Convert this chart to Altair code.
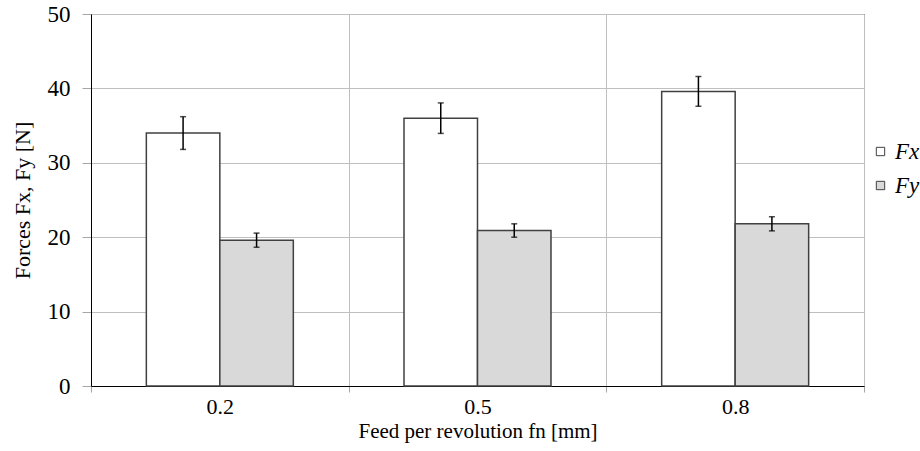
import altair as alt
import pandas as pd

feeds = ["0.2", "0.5", "0.8"]
series = ["Fx", "Fy"]
fx_mean = [34.0, 36.0, 39.6]
fx_err = [2.2, 2.05, 2.0]
fy_mean = [19.6, 20.9, 21.8]
fy_err = [0.95, 0.9, 0.95]
fills = ["#ffffff", "#d9d9d9"]

rows = []
for i, f in enumerate(feeds):
    rows.append(dict(feed=f, s="Fx", v=fx_mean[i], e=fx_err[i]))
    rows.append(dict(feed=f, s="Fy", v=fy_mean[i], e=fy_err[i]))
df = pd.DataFrame(rows)
df["lo"] = df["v"] - df["e"]
df["hi"] = df["v"] + df["e"]

FONT = "Liberation Serif"

x = alt.X(
    "feed:N", sort=feeds,
    scale=alt.Scale(paddingInner=0, paddingOuter=0),
    axis=alt.Axis(
        title="Feed per revolution fn [mm]", tickBand="extent", grid=True,
        labelAngle=0, labelFont=FONT, labelFontSize=22, labelColor="#000000",
        labelPadding=4, tickSize=6, tickColor="#a6a6a6", domainColor="#000000",
        titleFont=FONT, titleFontSize=21, titleFontWeight="normal", titleColor="#000000",
        titlePadding=3, gridColor="#bfbfbf",
    ),
)
xo = alt.XOffset(
    "s:N", sort=series,
    scale=alt.Scale(paddingOuter=0.753, paddingInner=0),
)
y_scale = alt.Scale(domain=[0, 50], nice=False)
y_axis = alt.Axis(
    title="Forces Fx, Fy [N]", values=[0, 10, 20, 30, 40, 50], grid=True,
    labelFont=FONT, labelFontSize=23, labelColor="#000000", labelPadding=12,
    tickSize=9, tickColor="#a6a6a6", domainColor="#000000",
    titleFont=FONT, titleFontSize=22, titleFontWeight="normal", titleColor="#000000",
    titlePadding=13, gridColor="#bfbfbf",
)

bars = alt.Chart(df).mark_bar(stroke="#404040", strokeWidth=1.5).encode(
    x=x, xOffset=xo,
    y=alt.Y("v:Q", scale=y_scale, axis=y_axis),
    fill=alt.Fill(
        "s:N", sort=series,
        scale=alt.Scale(domain=series, range=fills),
        legend=alt.Legend(
            title=None, orient="none", legendX=778, legendY=126,
            symbolType="square", symbolSize=70, symbolStrokeColor="#404040",
            symbolStrokeWidth=1, labelFont=FONT, labelFontSize=23,
            labelFontStyle="italic", labelColor="#000000", rowPadding=10,
            symbolOffset=0, labelOffset=3,
        ),
    ),
)

rules = alt.Chart(df).mark_rule(color="#000000", strokeWidth=1.5).encode(
    x=x, xOffset=xo,
    y=alt.Y("lo:Q", scale=y_scale),
    y2="hi:Q",
)
cap_lo = alt.Chart(df).mark_tick(color="#000000", thickness=1.5, size=6, orient="horizontal").encode(
    x=x, xOffset=xo, y=alt.Y("lo:Q", scale=y_scale),
)
cap_hi = alt.Chart(df).mark_tick(color="#000000", thickness=1.5, size=6, orient="horizontal").encode(
    x=x, xOffset=xo, y=alt.Y("hi:Q", scale=y_scale),
)

chart = alt.layer(bars, rules, cap_lo, cap_hi).properties(
    width=773, height=372,
    autosize=alt.AutoSizeParams(type="none"),
    padding={"left": 91, "top": 14, "right": 56, "bottom": 65},
    background="#ffffff",
).configure_view(stroke="#000000", strokeWidth=1)

chart.save("out.html", embed_options={"renderer": "svg", "actions": False})
